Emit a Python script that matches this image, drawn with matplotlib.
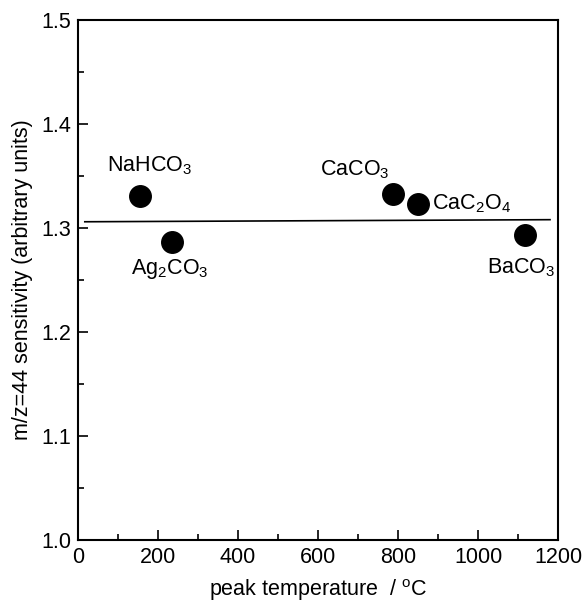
import numpy as np
import matplotlib
matplotlib.use("Agg")
import matplotlib.pyplot as plt
from matplotlib.ticker import MultipleLocator

plt.rcParams['font.family'] = ['Liberation Sans', 'DejaVu Sans']
plt.rcParams['mathtext.fontset'] = 'custom'
plt.rcParams['mathtext.rm'] = 'Liberation Sans'
plt.rcParams['mathtext.it'] = 'Liberation Sans'
plt.rcParams['mathtext.default'] = 'regular'

# data
names = [r'NaHCO$_3$', r'Ag$_2$CO$_3$', r'CaCO$_3$', r'CaC$_2$O$_4$', r'BaCO$_3$']
temps = [155, 234, 787, 851, 1117]
sens = [1.331, 1.287, 1.333, 1.323, 1.293]
fit_x = [17, 1180]
fit_y = [1.306, 1.308]

# label placement (offset in points, alignment)
offsets = [((7, 22), 'center'), ((-1, -20), 'center'), ((-2, 17), 'right'),
           ((10, 0), 'left'), ((22, -23), 'right')]

fig = plt.figure(figsize=(5.86, 6.03), dpi=100)
ax = fig.add_axes([78/586, 1-540/603, 480/586, 520/603])

ax.plot(fit_x, fit_y, color='black', lw=1.2)
ax.plot(temps, sens, 'o', color='black', markersize=15.5)

for name, x, y, (off, ha) in zip(names, temps, sens, offsets):
    ax.annotate(name, (x, y), xytext=off, textcoords='offset points',
                ha=ha, va='center', fontsize=15.5)

ax.set_xlim(0, 1200)
ax.set_ylim(1.0, 1.5)
ax.xaxis.set_major_locator(MultipleLocator(200))
ax.xaxis.set_minor_locator(MultipleLocator(100))
ax.yaxis.set_major_locator(MultipleLocator(0.1))
ax.yaxis.set_minor_locator(MultipleLocator(0.05))
ax.yaxis.set_major_formatter(plt.FormatStrFormatter('%.1f'))
ax.tick_params(which='both', direction='in', top=False, right=False, labelsize=15.5, width=1.2)
ax.tick_params(which='major', length=7, pad=5)
ax.tick_params(which='minor', length=4)
for s in ax.spines.values():
    s.set_linewidth(1.5)

ax.set_xlabel(r'peak temperature  / $^{\rm o}$C', fontsize=15.5)
ax.xaxis.set_label_coords(0.5, -(577 - 540) / 520)
ax.set_ylabel('m/z=44 sensitivity (arbitrary units)', fontsize=15.5)
ax.yaxis.set_label_coords(-(78 - 33) / 480, 0.5)

fig.savefig('out.png', dpi=100)
